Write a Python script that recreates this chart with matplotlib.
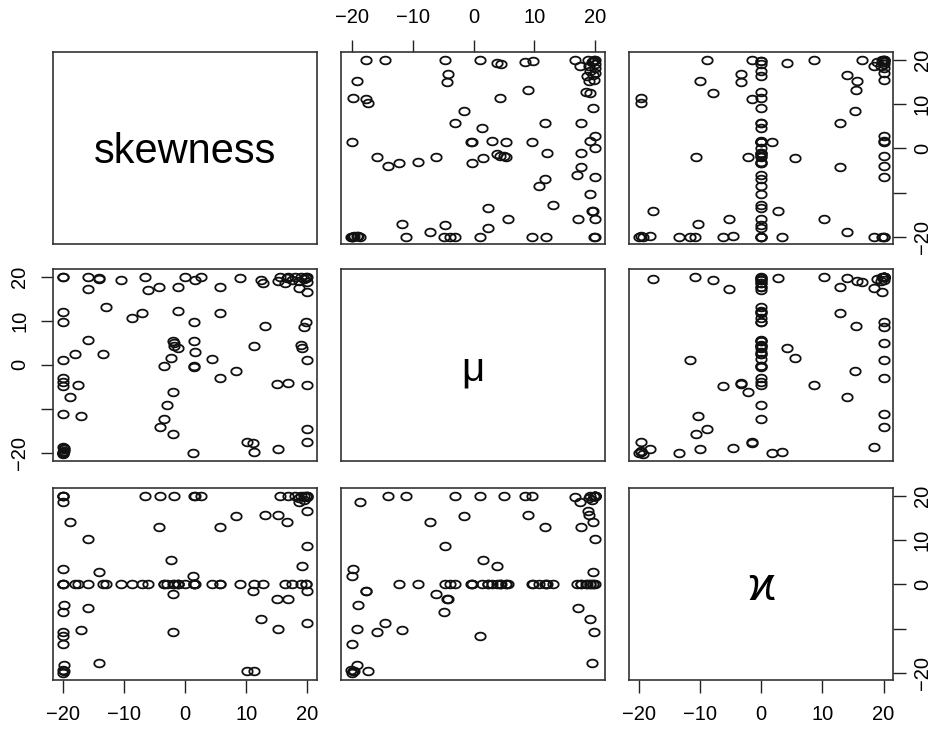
import matplotlib
matplotlib.use("Agg")
import matplotlib.pyplot as plt
import numpy as np
from matplotlib.path import Path

plt.rcParams['font.family'] = ['Liberation Sans', 'DejaVu Sans']

# Three variables plotted pairwise, one observation per index
skewness = [-20.0, -20.0, -20.0, -20.0, -20.0, -20.0, -20.0, -20.0, -20.0, -20.0,
            -19.8, -20.0, -19.7, -20.0, -20.0, -20.0, -18.8, -18.0, -17.4, -17.0,
            -15.9, -15.9, -15.9, -14.1, -14.1, -13.4, -12.9, -10.4, -8.6, -7.0,
            -6.5, -6.0, -4.2, -4.1, -3.4, -3.4, -3.0, -2.0, -1.9, -2.3,
            -2.0, -1.8, -1.2, -1.8, -1.1, -1.1, 0.0, 1.6, 2.7, 1.5,
            1.4, 1.6, 1.3, 1.5, 1.5, 4.5, 5.7, 5.7, 5.7, 8.4,
            9.0, 10.1, 11.2, 11.3, 11.3, 12.4, 12.7, 13.1, 15.0, 16.8,
            15.2, 19.0, 19.2, 19.7, 19.4, 20.0, 20.0, 20.0, 20.0, 20.0,
            18.6, 15.5, 16.6, 15.2, 16.9, 17.5, 18.0, 18.6, 19.0, 19.4,
            19.8, 20.0, 20.0, 16.4, 19.7, -19.8]
mu = [20.0, 19.8, 11.9, 9.6, 1.1, -3.0, -3.8, -4.8, -11.1, -20.0,
      -19.6, -20.2, -19.2, -20.0, -19.8, -18.7, -7.2, 2.4, -4.7, -11.7,
      20.0, 17.1, 5.7, 19.6, 19.4, 2.4, 13.1, 19.2, 10.7, 11.7,
      20.0, 17.0, 17.6, -14.1, -12.3, -0.2, -9.1, -6.2, -15.8, 1.5,
      5.3, 4.3, 3.8, 5.0, 17.7, 12.1, 20.0, 19.2, 20.0, 9.6,
      5.3, 3.0, -20.0, -0.2, -0.4, 1.4, 17.7, 11.7, -3.0, -1.5,
      19.6, -17.4, -17.7, -19.8, 4.3, 19.2, 18.5, 8.9, -4.4, -4.2,
      -19.2, 4.5, 3.8, 9.8, 8.5, 16.6, 1.1, -4.7, -14.6, -17.6,
      17.4, 19.8, 19.6, 19.0, 20.0, 19.2, 20.0, 19.0, 20.0, 19.4,
      20.0, 18.8, 19.8, 18.6, 19.6, -18.9]
kappa = [19.8, -10.8, 0.0, 0.0, -11.6, 20.0, 0.0, -6.2, 20.0, -20.0,
         -19.6, -19.3, -18.2, -13.5, 3.4, 18.5, 14.1, 0.0, 0.0, -10.3,
         10.2, -5.3, 0.0, 2.7, -17.7, 0.0, 0.0, 0.0, 0.0, 0.0,
         20.0, 0.0, 12.8, 20.0, 0.0, 0.0, 0.0, -2.2, -10.7, 5.5,
         0.0, 0.0, 0.0, 20.0, 0.0, 0.0, 0.0, 20.0, 20.0, 20.0,
         0.0, 0.0, 1.8, 0.0, 0.0, 0.0, 0.0, 12.8, 0.0, 15.3,
         0.0, -19.6, -1.5, -19.6, 0.0, -7.8, 0.0, 15.5, -3.3, -3.3,
         -10.0, 0.0, 4.2, 0.0, 20.0, 19.7, 20.0, 8.7, -8.8, -1.5,
         18.5, 20.0, 14.1, 15.6, 20.0, 0.0, 20.0, 19.5, 20.0, 19.0,
         20.0, 16.5, 20.0, 0.0, 0.0, -4.6]

names = ["skewness", "\u03bc", "\u03f0"]
name_sizes = [30, 29, 33]
ticks = [-20, -10, 0, 10, 20]
full_labels = ["\u221220", "\u221210", "0", "10", "20"]
side_labels = ["\u221220", "", "0", "10", "20"]

variables = [np.array(skewness), np.array(mu), np.array(kappa)]


def padded_range(v):
    lo, hi = v.min(), v.max()
    pad = 0.04 * (hi - lo)
    return lo - pad, hi + pad


# open, slightly wide ellipse used as the point symbol
theta = np.linspace(0, 2 * np.pi, 41)
ring = Path(np.column_stack([np.cos(theta), 0.74 * np.sin(theta)]))

fig = plt.figure(figsize=(9.35, 7.31), dpi=100)
lefts = [0.0564, 0.3644, 0.6727]
bottoms = [0.6662, 0.3694, 0.0698]
w, h = 0.2828, 0.2620

tick_kw = dict(length=9, width=1.0, labelsize=14.5, color='#222222')

for i in range(3):
    for j in range(3):
        ax = fig.add_axes([lefts[j], bottoms[i], w, h])
        ax.set_xlim(padded_range(variables[j]))
        ax.set_ylim(padded_range(variables[i]))
        for sp in ax.spines.values():
            sp.set_linewidth(1.2)
            sp.set_color('#333333')
        ax.set_xticks([])
        ax.set_yticks([])
        if i == j:
            ax.text(0.5, 0.48, names[i], transform=ax.transAxes,
                    ha='center', va='center', fontsize=name_sizes[i],
                    family=['Liberation Sans', 'DejaVu Sans'])
        else:
            ax.plot(variables[j], variables[i], linestyle='none',
                    marker=ring, markersize=7.5, markerfacecolor='none',
                    markeredgecolor='#111111', markeredgewidth=1.3)

        # alternating axes in the style of a pairs plot
        if i == 0 and j == 1:
            ax.set_xticks(ticks)
            ax.set_xticklabels(full_labels)
            ax.xaxis.tick_top()
            ax.tick_params(axis='x', top=True, bottom=False, pad=9, **tick_kw)
        if j == 0 and i == 1:
            ax.set_yticks(ticks)
            ax.set_yticklabels(side_labels, rotation=90, va='center')
            ax.tick_params(axis='y', left=True, pad=8, **tick_kw)
        if i == 2 and j in (0, 2):
            ax.set_xticks(ticks)
            ax.set_xticklabels(full_labels)
            ax.tick_params(axis='x', bottom=True, pad=9, **tick_kw)
        if j == 2 and i in (0, 2):
            ax.set_yticks(ticks)
            ax.set_yticklabels(side_labels, rotation=90, va='center')
            ax.yaxis.tick_right()
            ax.tick_params(axis='y', right=True, left=False, pad=5, **tick_kw)

fig.savefig("out.png", dpi=100)
